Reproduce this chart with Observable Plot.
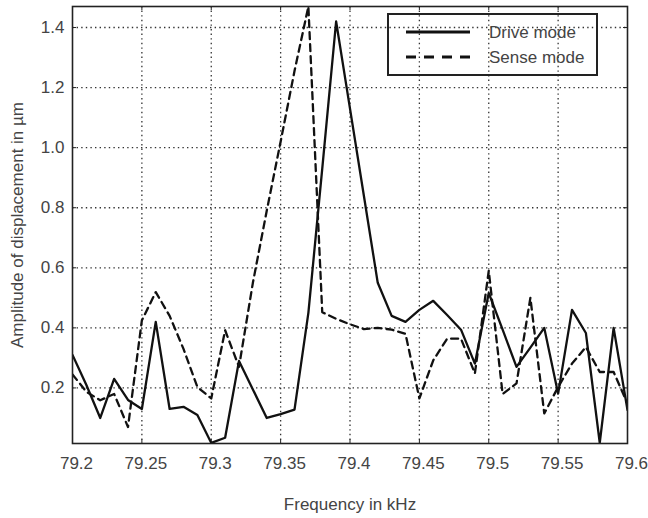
<!DOCTYPE html>
<html>
<head>
<meta charset="utf-8">
<script src="https://cdn.jsdelivr.net/npm/d3@7"></script>
<script src="https://cdn.jsdelivr.net/npm/@observablehq/plot@0.6"></script>
<style>
  html, body { margin: 0; padding: 0; background: #fff; }
  #wrap { position: relative; width: 648px; height: 518px; font-family: "Liberation Sans", Arial, sans-serif; }
  #legend { position: absolute; left: 387px; top: 13px; width: 207px; height: 59px; border: 2px solid #222; background: transparent; }
  #legend svg { position: absolute; left: 0; top: 0; }
</style>
</head>
<body>
<div id="wrap"></div>
<script>
const freq = [79.20, 79.21, 79.22, 79.23, 79.24, 79.25, 79.26, 79.27, 79.28, 79.29,
              79.30, 79.31, 79.32, 79.33, 79.34, 79.35, 79.36, 79.37, 79.38, 79.39,
              79.40, 79.41, 79.42, 79.43, 79.44, 79.45, 79.46, 79.47, 79.48, 79.49,
              79.50, 79.51, 79.52, 79.53, 79.54, 79.55, 79.56, 79.57, 79.58, 79.59, 79.60];
const drive = [0.31, 0.21, 0.10, 0.23, 0.16, 0.13, 0.42, 0.13, 0.137, 0.11,
               0.017, 0.034, 0.29, 0.195, 0.10, 0.113, 0.128, 0.45, 0.93, 1.42,
               1.13, 0.84, 0.55, 0.44, 0.42, 0.46, 0.49, 0.443, 0.394, 0.281,
               0.516, 0.394, 0.27, 0.334, 0.40, 0.181, 0.46, 0.383, 0.017, 0.40, 0.126];
const sense = [0.245, 0.187, 0.159, 0.18, 0.07, 0.425, 0.519, 0.44, 0.33, 0.203,
               0.165, 0.392, 0.27, 0.55, 0.79, 1.02, 1.255, 1.47, 0.452, 0.43,
               0.412, 0.396, 0.40, 0.394, 0.38, 0.165, 0.292, 0.364, 0.364, 0.248,
               0.59, 0.18, 0.215, 0.50, 0.115, 0.203, 0.281, 0.336, 0.253, 0.253, 0.148];
const xTicks = [79.2, 79.25, 79.3, 79.35, 79.4, 79.45, 79.5, 79.55, 79.6];
const xTickLabels = ["79.2", "79.25", "79.3", "79.35", "79.4", "79.45", "79.5", "79.55", "79.6"];
const yTicks = [0.2, 0.4, 0.6, 0.8, 1.0, 1.2, 1.4];
const yTickLabels = ["0.2", "0.4", "0.6", "0.8", "1.0", "1.2", "1.4"];
const seriesNames = ["Drive mode", "Sense mode"];
const xLabel = "Frequency in kHz";
const yLabel = "Amplitude of displacement in µm";

const driveData = freq.map((f, i) => ({f, v: drive[i]}));
const senseData = freq.map((f, i) => ({f, v: sense[i]}));

const W = 648, H = 518, mL = 72, mR = 21, mT = 6, mB = 75;
const innerW = W - mL - mR, innerH = H - mT - mB;
const gridStyle = {stroke: "#333", strokeOpacity: 1, strokeWidth: 1.3, strokeDasharray: "1.4,3.2"};

const chart = Plot.plot({
  width: W, height: H,
  marginLeft: mL, marginRight: mR, marginTop: mT, marginBottom: mB,
  style: {fontFamily: "'Liberation Sans', Arial, sans-serif", color: "#333", background: "transparent"},
  x: {domain: [79.2, 79.6]},
  y: {domain: [0.015, 1.47]},
  marks: [
    Plot.ruleX(xTicks.slice(1, -1), gridStyle),
    Plot.ruleY(yTicks, gridStyle),
    Plot.ruleX(xTicks, {stroke: "#222", insetTop: innerH - 4}),
    Plot.ruleX(xTicks, {stroke: "#222", insetBottom: innerH - 4}),
    Plot.ruleY(yTicks, {stroke: "#222", insetRight: innerW - 4}),
    Plot.ruleY(yTicks, {stroke: "#222", insetLeft: innerW - 4}),
    Plot.line(driveData, {x: "f", y: "v", stroke: "#111", strokeWidth: 2.3, clip: true}),
    Plot.line(senseData, {x: "f", y: "v", stroke: "#111", strokeWidth: 2.3, strokeDasharray: "7,5", clip: true}),
    Plot.frame({stroke: "#222", strokeWidth: 1.6}),
    Plot.axisX(xTicks, {tickSize: 0, tickPadding: 13, dx: 4, fontSize: 17, fill: "#444",
      tickFormat: (d, i) => xTickLabels[i], label: xLabel, labelAnchor: "center", labelOffset: 66, labelArrow: "none"}),
    Plot.axisY(yTicks, {tickSize: 0, tickPadding: 8, fontSize: 17, fill: "#444",
      tickFormat: (d, i) => yTickLabels[i], label: yLabel, labelAnchor: "center", labelOffset: 62, labelArrow: "none"})
  ]
});
document.getElementById("wrap").appendChild(chart);

// legend overlay
const lg = document.createElement("div");
lg.id = "legend";
const ns = "http://www.w3.org/2000/svg";
const svg = document.createElementNS(ns, "svg");
svg.setAttribute("width", 207); svg.setAttribute("height", 59);
const styles = [{dash: null}, {dash: "10,8"}];
seriesNames.forEach((name, i) => {
  const y = 17 + i * 25;
  const ln = document.createElementNS(ns, "line");
  ln.setAttribute("x1", 17); ln.setAttribute("x2", 81);
  ln.setAttribute("y1", y); ln.setAttribute("y2", y);
  ln.setAttribute("stroke", "#111"); ln.setAttribute("stroke-width", 3.2);
  if (styles[i].dash) ln.setAttribute("stroke-dasharray", styles[i].dash);
  svg.appendChild(ln);
  const t = document.createElementNS(ns, "text");
  t.setAttribute("x", 100); t.setAttribute("y", y + 6);
  t.setAttribute("font-size", 17); t.setAttribute("fill", "#444");
  t.setAttribute("font-family", "'Liberation Sans', Arial, sans-serif");
  t.textContent = name;
  svg.appendChild(t);
});
lg.appendChild(svg);
document.getElementById("wrap").appendChild(lg);
</script>
</body>
</html>
